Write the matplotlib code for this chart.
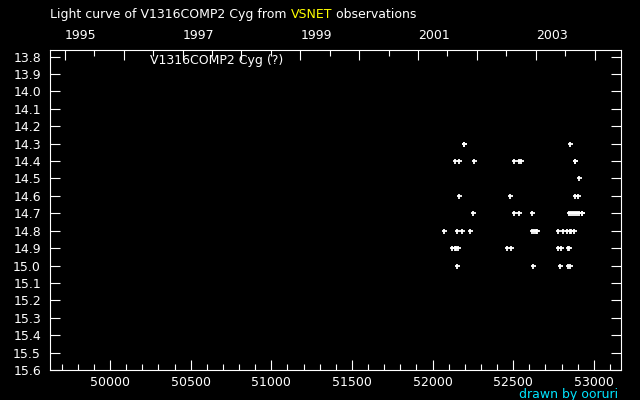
import matplotlib
matplotlib.use('Agg')
import matplotlib.pyplot as plt
from matplotlib.ticker import MultipleLocator, FixedLocator
from datetime import date

# ---- data ----
title_parts = ["Light curve of V1316COMP2 Cyg from ", "VSNET", " observations"]
star_label = "V1316COMP2 Cyg (?)"
credit = "drawn by ooruri"

jd = [52193, 52197, 52855,
      52141, 52166, 52259, 52507, 52538, 52550, 52882, 52886,
      52910,
      52166, 52482, 52886, 52904,
      52253, 52507, 52538, 52619, 52848, 52861, 52873, 52886, 52898, 52910, 52924, 52929,
      52073, 52153, 52184, 52234, 52619, 52631, 52644, 52650, 52780, 52811, 52836, 52853, 52857, 52879,
      52122, 52139, 52144, 52160, 52464, 52488, 52780, 52799, 52840, 52844,
      52153, 52625, 52793, 52842, 52855]
mag = [14.3] * 3 + [14.4] * 8 + [14.5] * 1 + [14.6] * 4 + [14.7] * 12 + \
      [14.8] * 14 + [14.9] * 10 + [15.0] * 5

years = list(range(1995, 2005))
year_labels = [str(y) if y % 2 == 1 else "" for y in years]
y_ticks = [round(13.8 + 0.1 * i, 1) for i in range(19)]
x_major = [50000, 50500, 51000, 51500, 52000, 52500, 53000]

# ---- helpers ----
MJD0 = date(1858, 11, 17)
def mjd(y, m=1, d=1):
    return (date(y, m, d) - MJD0).days

year_pos = [mjd(y) for y in years]
half_pos = [mjd(y, 7, 2) for y in years]

fig = plt.figure(figsize=(6.4, 4), dpi=100, facecolor='black')
ax = fig.add_axes([50 / 640, 30 / 400, 571 / 640, 320 / 400])
ax.set_facecolor('black')

ax.plot(jd, mag, linestyle='none', marker='+', color='white',
        markersize=3.6, markeredgewidth=1.3)

ax.set_xlim(49627, 53169)
ax.set_ylim(15.6, 13.762)

for s in ax.spines.values():
    s.set_color('white')
    s.set_linewidth(0.8)

ax.xaxis.set_major_locator(FixedLocator(x_major))
ax.xaxis.set_minor_locator(MultipleLocator(100))
ax.set_yticks(y_ticks)
ax.set_yticklabels([f"{v:.1f}" for v in y_ticks])

ax.tick_params(axis='x', which='major', direction='in', length=7.5, width=0.8,
               color='white', labelcolor='white', labelsize=9, pad=4,
               top=False, bottom=True)
ax.tick_params(axis='x', which='minor', direction='in', length=4, width=0.8,
               color='white', top=False, bottom=True)
ax.tick_params(axis='y', which='major', direction='in', length=7.5, width=0.8,
               color='white', labelcolor='white', labelsize=9, pad=6.5,
               left=True, right=True)

ax2 = ax.twiny()
ax2.set_xlim(ax.get_xlim())
ax2.xaxis.set_major_locator(FixedLocator(year_pos))
ax2.set_xticklabels(year_labels)
ax2.xaxis.set_minor_locator(FixedLocator(half_pos))
ax2.tick_params(axis='x', which='major', direction='in', length=7.5, width=0.8,
                color='white', labelcolor='white', labelsize=9, pad=6)
ax2.tick_params(axis='x', which='minor', direction='in', length=4, width=0.8,
                color='white')
for lbl in ax2.get_xticklabels():
    lbl.set_ha('left')
for s in ax2.spines.values():
    s.set_visible(False)

# ---- texts ----
t1 = fig.text(50 / 640, 1 - 14.5 / 400, title_parts[0], color='white',
              fontsize=9, va='center', ha='left')
t2 = ax.annotate(title_parts[1], xy=(1, 0), xycoords=t1, va='bottom', ha='left',
                 color='#FFFF00', fontsize=9, annotation_clip=False)
t3 = ax.annotate(title_parts[2], xy=(1, 0), xycoords=t2, va='bottom', ha='left',
                 color='white', fontsize=9, annotation_clip=False)

fig.text(150 / 640, 1 - 60.7 / 400, star_label, color='white', fontsize=9,
         va='center', ha='left')
fig.text(618 / 640, 1 - 394.5 / 400, credit, color='#00E5FF', fontsize=9,
         va='center', ha='right')

fig.savefig('out.png', dpi=100, facecolor='black')
